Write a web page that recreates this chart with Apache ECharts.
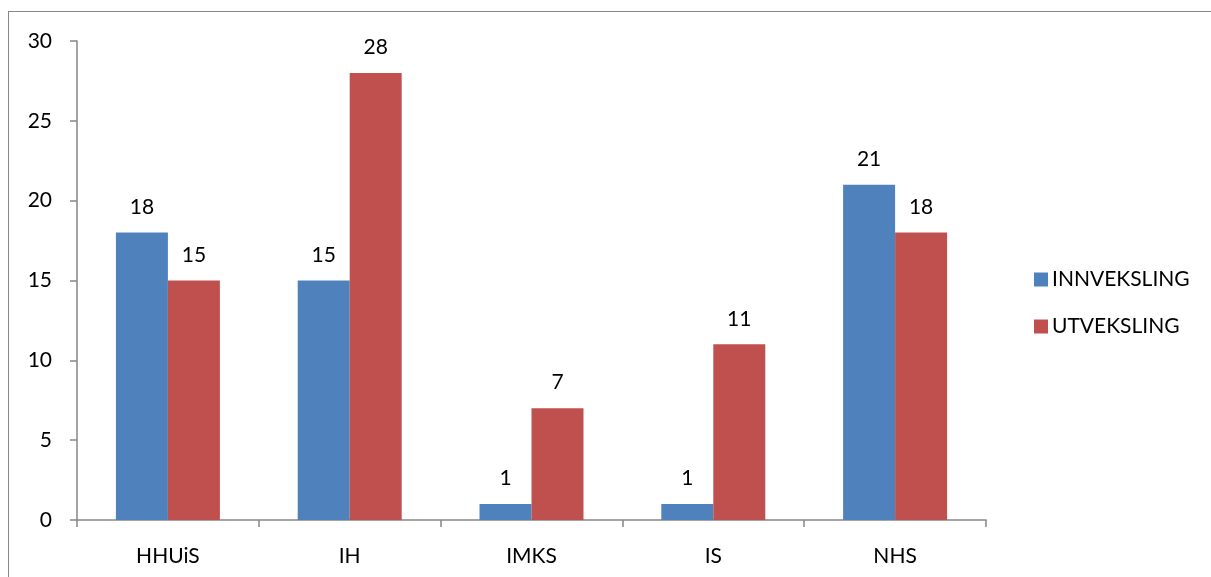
<!DOCTYPE html>
<html><head><meta charset="utf-8">
<script src="https://cdn.jsdelivr.net/npm/echarts@6/dist/echarts.min.js"></script>
<style>
html,body{margin:0;padding:0;background:#fff;}
#frame{position:absolute;left:8px;top:11px;width:1220px;height:600px;border:1px solid #888;box-sizing:border-box;}
#c{position:absolute;left:0;top:0;width:1211px;height:577px;}
</style></head>
<body>
<div id="frame"></div>
<div id="c"></div>
<script>
const categories = ['HHUiS','IH','IMKS','IS','NHS'];
const innveksling = [18,15,1,1,21];
const utveksling = [15,28,7,11,18];
const seriesNames = ['INNVEKSLING','UTVEKSLING'];

const font = 'Lato, "Open Sans", sans-serif';
const chart = echarts.init(document.getElementById('c'));
const lbl = {show:true, position:'top', distance:15, color:'#000', fontSize:21, fontFamily:font};
chart.setOption({
  animation:false,
  grid:{left:77, right:225, top:41, bottom:57},
  legend:{
    orient:'vertical', left:1029, top:264, itemWidth:14, itemHeight:14, itemGap:26,
    icon:'rect', textStyle:{fontSize:21, fontFamily:font, color:'#000', padding:[0,0,0,-1]},
    data:seriesNames
  },
  xAxis:{
    type:'category', data:categories,
    axisLine:{lineStyle:{color:'#868686', width:1.5}},
    axisTick:{show:true, length:7, lineStyle:{color:'#868686', width:1.5}},
    axisLabel:{color:'#000', fontSize:21, fontFamily:font, margin:26}
  },
  yAxis:{
    type:'value', min:0, max:30, interval:5,
    axisLine:{show:true, lineStyle:{color:'#868686', width:1.5}},
    axisTick:{show:true, length:7, lineStyle:{color:'#868686', width:1.5}},
    splitLine:{show:false},
    axisLabel:{color:'#000', fontSize:21, fontFamily:font, margin:25}
  },
  series:[
    {name:seriesNames[0], type:'bar', data:innveksling, barGap:'0%', barCategoryGap:'42.8%',
     itemStyle:{color:'#4F81BD'}, label:lbl},
    {name:seriesNames[1], type:'bar', data:utveksling, barGap:'0%', barCategoryGap:'42.8%',
     itemStyle:{color:'#C0504D'}, label:lbl}
  ]
});
</script>
</body></html>
